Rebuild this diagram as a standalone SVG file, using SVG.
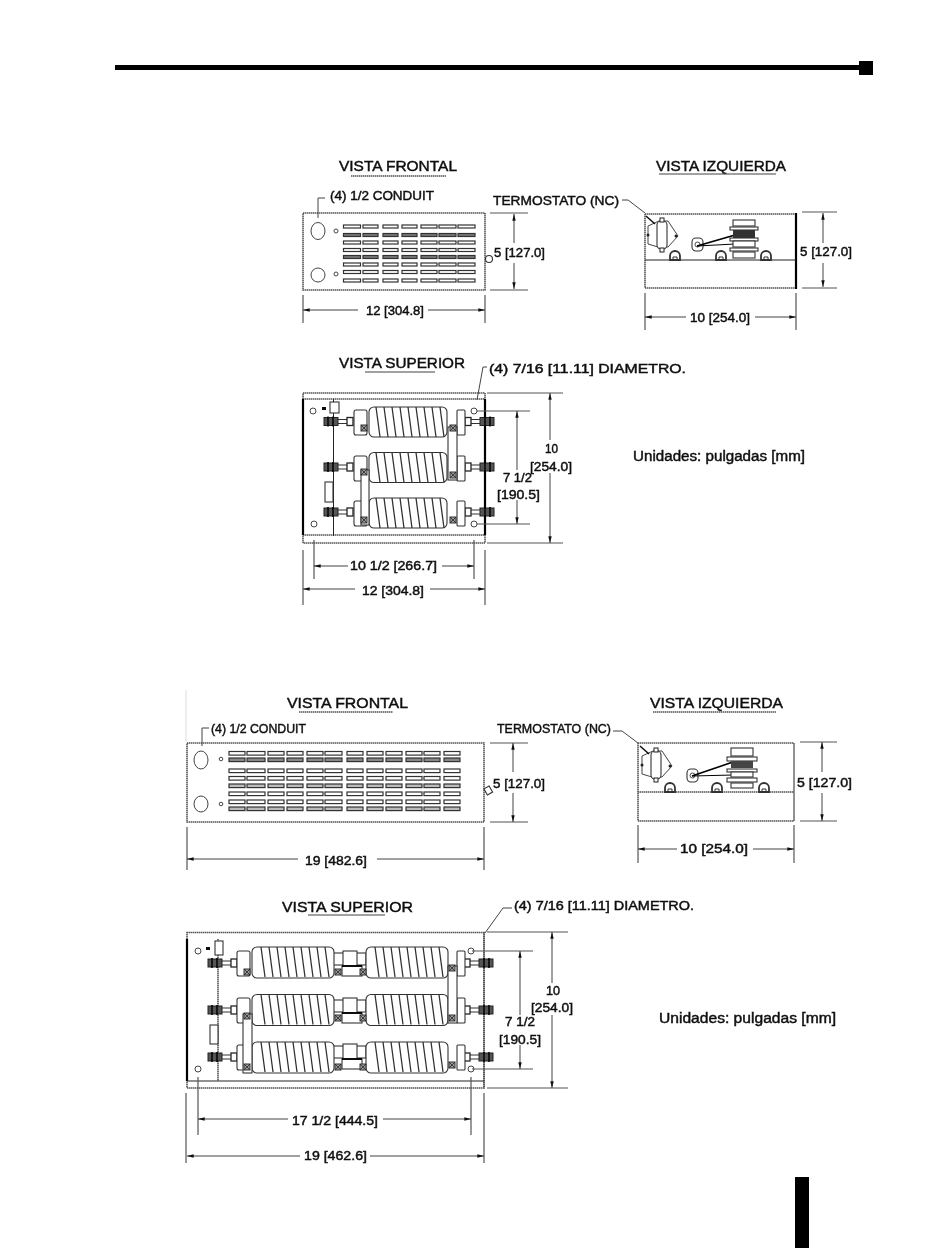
<svg xmlns="http://www.w3.org/2000/svg" width="950" height="1254" viewBox="0 0 950 1254">
<style>
text{font-family:"Liberation Sans",Arial,sans-serif;font-size:12.500px;fill:#111;stroke:#111;stroke-width:.45}
.h{font-size:14.500px}
.u{font-size:14px}
.l{fill:none;stroke:#222;stroke-width:1}
.t{fill:none;stroke:#444;stroke-width:1}
.b{fill:none;stroke:#555;stroke-width:1.600;stroke-dasharray:1.500 .5}
.k{fill:none;stroke:#000;stroke-width:2.200}
.s{stroke:#333;stroke-width:1.200}
.c{fill:#fff;stroke:#333;stroke-width:1.100}
.d{fill:none;stroke:#444;stroke-width:1;marker-end:url(#ar)}
.e{fill:none;stroke:#555;stroke-width:1.200}
</style>
<defs>
<filter id="soft" filterUnits="userSpaceOnUse" x="0" y="0" width="950" height="1254"><feGaussianBlur stdDeviation="0.3"/></filter>
<marker id="ar" viewBox="0 0 8 6" refX="8" refY="3" markerWidth="7" markerHeight="5" orient="auto" markerUnits="userSpaceOnUse"><path d="M0 1L8 3L0 5z" fill="#111"/></marker>
<g id="row7"><rect class="s" x="343.500" width="17" height="3"/><rect class="s" x="363" width="15" height="3"/><rect class="s" x="383" width="15" height="3"/><rect class="s" x="402" width="15" height="3"/><rect class="s" x="421" width="16" height="3"/><rect class="s" x="439" width="17" height="3"/><rect class="s" x="458" width="17" height="3"/></g>
<g id="row12"><rect class="s" x="229" width="16" height="3.600"/><rect class="s" x="247" width="18" height="3.600"/><rect class="s" x="268" width="16" height="3.600"/><rect class="s" x="287" width="16" height="3.600"/><rect class="s" x="307" width="16" height="3.600"/><rect class="s" x="325" width="17" height="3.600"/><rect class="s" x="347" width="16" height="3.600"/><rect class="s" x="367" width="16" height="3.600"/><rect class="s" x="386" width="16" height="3.600"/><rect class="s" x="406" width="16" height="3.600"/><rect class="s" x="424" width="16" height="3.600"/><rect class="s" x="444" width="16" height="3.600"/></g>
<path id="ribs" d="M7 0l4 30M15 0l4 30M23 0l4 30M31 0l4 30M39 0l4 30M47 0l4 30M55 0l4 30M63 0l4 30M71 0l4 30" fill="none" stroke="#333" stroke-width="1.300"/>
<g id="coilS"><rect class="c" width="78" height="30" rx="5"/><use href="#ribs"/></g>
<g id="coilL"><rect class="c" width="82" height="31" rx="5"/><use href="#ribs" x="2"/></g>
<g id="studL"><rect x="13" y="-2" width="12" height="4" fill="#fff" stroke="#333"/><rect x="0" y="-4" width="14" height="8" fill="#555" stroke="#222"/><path d="M4 -5v10M9 -5v10" stroke="#000" stroke-width="1.500"/><rect x="23" y="-4" width="6" height="8" fill="#fff" stroke="#222" stroke-width="1.300"/></g>
<g id="studR"><rect x="4" y="-2" width="12" height="4" fill="#fff" stroke="#333"/><rect x="15" y="-4" width="14" height="8" fill="#555" stroke="#222"/><path d="M20 -5v10M25 -5v10" stroke="#000" stroke-width="1.500"/><rect x="0" y="-4" width="6" height="8" fill="#fff" stroke="#222" stroke-width="1.300"/></g>
<rect id="hubT" class="c" width="13" height="25" rx="2"/>
<rect id="hubS" class="c" width="8" height="25" rx="1"/>
<g id="term"><rect x="-3" y="-3" width="6" height="6" fill="#999" stroke="#333"/><path d="M-3 -3l6 6M3 -3l-6 6" stroke="#222" stroke-width=".8"/></g>
<g id="therm"><path class="t" d="M0 6L11 1H20L30 16L20 27H10L0 24z"/><rect class="c" x="9" y="1" width="10" height="28" rx="4"/><rect class="c" x="12" y="-2" width="4" height="4"/><rect class="c" x="12" y="28" width="4" height="4"/><circle cx="0" cy="15" r="1.500" fill="#222"/><circle cx="28" cy="16" r="1.500" fill="#222"/><path d="M-2 -4L7 4" stroke="#111" stroke-width="1.500"/></g>
<g id="nut"><path d="M-5 4v-4a5 5 0 0 1 10 0v4z" fill="#fff" stroke="#333" stroke-width="1.800"/><path d="M-2 4v-3h4v3" fill="none" stroke="#333"/></g>
</defs>
<g filter="url(#soft)">
<g id="page">
<rect x="115" y="65" width="745" height="5" fill="#000"/>
<rect x="859" y="61" width="14" height="14" fill="#000"/>
<rect x="795" y="1177" width="14" height="71" fill="#000"/>
<line x1="186" y1="690" x2="186" y2="742" stroke="#ddd"/>
</g>
<g id="top-frontal">
<text class="h" x="339" y="171" textLength="118" lengthAdjust="spacingAndGlyphs">VISTA FRONTAL</text>
<line class="b" x1="351" y1="176" x2="446" y2="176"/>
<text x="330" y="200" textLength="104" lengthAdjust="spacingAndGlyphs">(4) 1/2 CONDUIT</text>
<rect class="b" x="303" y="213" width="182" height="77"/>
<ellipse class="t" cx="318" cy="231" rx="7" ry="8.500"/><circle class="t" cx="318" cy="275" r="7"/>
<circle class="t" cx="336" cy="231" r="2"/><circle class="t" cx="336" cy="274" r="2"/>
<use href="#row7" y="225" fill="#fff"/><use href="#row7" y="233.500" fill="#777"/><use href="#row7" y="241" fill="#fff"/><use href="#row7" y="248.500" fill="#fff"/><use href="#row7" y="255.500" fill="#777"/><use href="#row7" y="263" fill="#fff"/><use href="#row7" y="270.500" fill="#fff"/><use href="#row7" y="279" fill="#fff"/>
<circle class="c" cx="489" cy="259" r="3.500"/>
<text x="494" y="256.500" textLength="51" lengthAdjust="spacingAndGlyphs">5 [127.0]</text>
<text x="366" y="315" textLength="58" lengthAdjust="spacingAndGlyphs">12 [304.8]</text>
</g>
<g id="top-left-view">
<text class="h" x="656" y="171" textLength="130" lengthAdjust="spacingAndGlyphs">VISTA IZQUIERDA</text>
<line class="t" x1="659" y1="174" x2="776" y2="174"/>
<text x="493" y="205" textLength="126" lengthAdjust="spacingAndGlyphs">TERMOSTATO (NC)</text>
<path class="b" d="M645 214h151M645 288h151M645 214v74"/>
<line class="k" x1="796" y1="213" x2="796" y2="289"/>
<line class="l" x1="645" y1="260" x2="796" y2="260"/>
<use href="#therm" x="648" y="220"/>
<rect class="c" x="692" y="238" width="11" height="13" rx="4"/><circle class="t" cx="697.500" cy="244.500" r="2.500"/>
<path d="M697 246L735 235" stroke="#000" stroke-width="1.800"/><path d="M697 246L735 244" stroke="#000" stroke-width="1"/>
<rect class="c" x="733" y="220" width="22" height="6"/><rect class="c" x="730" y="227" width="28" height="3"/><rect x="733" y="230" width="22" height="8" fill="#333"/><rect class="c" x="730" y="238" width="28" height="3"/><rect class="c" x="733" y="241" width="22" height="6"/><rect class="c" x="730" y="248" width="28" height="3"/><rect class="c" x="733" y="252" width="22" height="6"/>
<use href="#nut" x="675" y="256"/><use href="#nut" x="721" y="256"/><use href="#nut" x="766" y="256"/>
<text x="800" y="256" textLength="52" lengthAdjust="spacingAndGlyphs">5 [127.0]</text>
<text x="690" y="322" textLength="60" lengthAdjust="spacingAndGlyphs">10 [254.0]</text>
</g>
<g id="top-plan">
<text class="h" x="339" y="368" textLength="126" lengthAdjust="spacingAndGlyphs">VISTA SUPERIOR</text>
<line class="t" x1="365" y1="372" x2="435" y2="372"/>
<text x="489" y="373" textLength="197" lengthAdjust="spacingAndGlyphs">(4) 7/16 [11.11] DIAMETRO.</text>
<rect class="b" x="303" y="393" width="182" height="150"/>
<path class="b" d="M303 399h182M303 535h182"/>
<path class="k" d="M303 399v136M485 399v136"/>
<line class="l" x1="333.500" y1="399" x2="333.500" y2="536"/>
<circle class="t" cx="313" cy="411" r="3"/><circle class="t" cx="314" cy="524" r="3"/><circle class="t" cx="474" cy="411" r="3"/><circle class="t" cx="474" cy="524" r="3"/>
<rect class="c" x="330" y="402" width="9" height="11"/><rect x="322" y="407" width="4" height="3" fill="#111"/>
<rect class="c" x="325" y="482" width="8" height="20"/>
<use href="#studL" x="324" y="421.500"/><use href="#studL" x="324" y="467"/><use href="#studL" x="324" y="512"/>
<use href="#studR" x="465" y="421.500"/><use href="#studR" x="465" y="467"/><use href="#studR" x="465" y="512"/>
<use href="#hubT" x="354" y="410"/><use href="#hubT" x="354" y="456"/><use href="#hubT" x="354" y="501"/>
<use href="#hubS" x="457" y="410"/><use href="#hubS" x="457" y="456"/><use href="#hubS" x="457" y="501"/>
<use href="#coilS" x="369" y="407"/><use href="#coilS" x="369" y="452.500"/><use href="#coilS" x="369" y="498"/>
<rect class="c" x="448" y="427" width="9" height="53"/><rect class="c" x="361" y="470" width="8" height="55"/>
<use href="#term" x="364" y="428"/><use href="#term" x="453" y="428"/><use href="#term" x="453" y="475"/><use href="#term" x="364" y="472"/><use href="#term" x="364" y="520"/><use href="#term" x="453" y="520"/>
<text x="545" y="453" textLength="13" lengthAdjust="spacingAndGlyphs">10</text><text x="530" y="471" textLength="42" lengthAdjust="spacingAndGlyphs">[254.0]</text>
<text x="503" y="481.500" textLength="29" lengthAdjust="spacingAndGlyphs">7 1/2</text><text x="497" y="499" textLength="43" lengthAdjust="spacingAndGlyphs">[190.5]</text>
<text class="u" x="633" y="461" textLength="172" lengthAdjust="spacingAndGlyphs">Unidades: pulgadas [mm]</text>
<text x="350" y="570" textLength="87" lengthAdjust="spacingAndGlyphs">10 1/2 [266.7]</text>
<text x="362" y="595" textLength="62" lengthAdjust="spacingAndGlyphs">12 [304.8]</text>
</g>
<g id="bottom-frontal">
<text class="h" x="287" y="708" textLength="121" lengthAdjust="spacingAndGlyphs">VISTA FRONTAL</text>
<line class="b" x1="299" y1="712" x2="393" y2="712"/>
<text x="211" y="733" textLength="95" lengthAdjust="spacingAndGlyphs">(4) 1/2 CONDUIT</text>
<rect class="b" x="187" y="743" width="297" height="79"/>
<ellipse class="t" cx="201" cy="760" rx="7" ry="9"/><ellipse class="t" cx="201" cy="804" rx="7" ry="8"/>
<circle class="t" cx="221" cy="759" r="1.800"/><circle class="t" cx="221" cy="804" r="1.800"/>
<use href="#row12" y="751.500" fill="#fff"/><use href="#row12" y="758" fill="#888"/><use href="#row12" y="769" fill="#fff"/><use href="#row12" y="776.500" fill="#fff"/><use href="#row12" y="784" fill="#bbb"/><use href="#row12" y="792" fill="#fff"/><use href="#row12" y="800" fill="#fff"/><use href="#row12" y="807" fill="#bbb"/>
<rect class="c" x="485" y="787" width="6" height="7" transform="rotate(-30 488 790)"/>
<text x="493" y="788" textLength="52" lengthAdjust="spacingAndGlyphs">5 [127.0]</text>
<text x="305" y="865" textLength="62" lengthAdjust="spacingAndGlyphs">19 [482.6]</text>
</g>
<g id="bottom-left-view">
<text class="h" x="650" y="707.500" textLength="133" lengthAdjust="spacingAndGlyphs">VISTA IZQUIERDA</text>
<line class="b" x1="653" y1="712" x2="776" y2="712"/>
<text x="497" y="733" textLength="114" lengthAdjust="spacingAndGlyphs">TERMOSTATO (NC)</text>
<path class="b" d="M638 743h156M638 821h156M638 743v78"/>
<line class="l" x1="794" y1="743" x2="794" y2="821"/>
<line class="b" x1="638" y1="792" x2="794" y2="792"/>
<use href="#therm" x="642" y="750"/>
<rect class="c" x="687" y="769" width="11" height="13" rx="4"/><circle class="t" cx="692.500" cy="775.500" r="2.500"/>
<path d="M692 776L733 762" stroke="#000" stroke-width="1.800"/><path d="M692 776L733 775" stroke="#000" stroke-width="1.200"/>
<rect class="c" x="731" y="748" width="22" height="8"/><rect class="c" x="727" y="757" width="30" height="4"/><rect x="731" y="761" width="22" height="7" fill="#444"/><rect class="c" x="727" y="769" width="30" height="3"/><rect class="c" x="731" y="772" width="22" height="5"/><rect class="c" x="727" y="778" width="30" height="4"/><rect class="c" x="731" y="783" width="22" height="5"/>
<use href="#nut" x="670" y="788"/><use href="#nut" x="717" y="788"/><use href="#nut" x="764" y="788"/>
<text x="797" y="787" textLength="55" lengthAdjust="spacingAndGlyphs">5 [127.0]</text>
<text x="680" y="853" textLength="68" lengthAdjust="spacingAndGlyphs">10 [254.0]</text>
</g>
<g id="bottom-plan">
<text class="h" x="282" y="912" textLength="131" lengthAdjust="spacingAndGlyphs">VISTA SUPERIOR</text>
<line class="t" x1="308" y1="915" x2="385" y2="915"/>
<text x="514" y="910" textLength="180" lengthAdjust="spacingAndGlyphs">(4) 7/16 [11.11] DIAMETRO.</text>
<rect class="b" x="187" y="932.500" width="297" height="155.500"/>
<path class="b" d="M218 939v142M484 932v156"/>
<line class="k" x1="187" y1="939" x2="187" y2="1081"/>
<line class="l" x1="187" y1="1081" x2="484" y2="1081"/>
<circle class="t" cx="198" cy="951" r="3"/><circle class="t" cx="198" cy="1069" r="3"/><circle class="t" cx="471" cy="951" r="3"/><circle class="t" cx="471" cy="1069" r="3"/>
<rect class="c" x="215" y="941" width="8" height="14"/><rect x="206" y="947" width="4" height="3" fill="#111"/>
<rect class="c" x="210" y="1025" width="8" height="19"/>
<use href="#studL" x="208" y="963"/><use href="#studL" x="208" y="1010"/><use href="#studL" x="208" y="1057"/>
<use href="#studR" x="464" y="963"/><use href="#studR" x="464" y="1010"/><use href="#studR" x="464" y="1057"/>
<use href="#hubT" x="237" y="951"/><use href="#hubT" x="237" y="998"/><use href="#hubT" x="237" y="1045"/>
<use href="#hubS" x="457" y="951"/><use href="#hubS" x="457" y="998"/><use href="#hubS" x="457" y="1045"/>
<g id="link1"><rect class="c" x="333" y="953" width="33" height="12"/><rect class="c" x="343" y="951" width="14" height="16"/><rect class="c" x="342" y="966" width="20" height="10"/><path d="M342 966h20" stroke="#000" stroke-width="1.800"/></g>
<use href="#link1" y="47"/><use href="#link1" y="93"/>
<use href="#coilL" x="252" y="947"/><use href="#coilL" x="366" y="947"/>
<use href="#coilL" x="252" y="994.500"/><use href="#coilL" x="366" y="994.500"/>
<use href="#coilL" x="252" y="1042"/><use href="#coilL" x="366" y="1042"/>
<rect class="c" x="448" y="966" width="9" height="57"/><rect class="c" x="243" y="1014" width="9" height="59"/>
<use href="#term" x="247" y="972"/><use href="#term" x="452" y="968"/><use href="#term" x="452" y="1018"/><use href="#term" x="247" y="1016"/><use href="#term" x="247" y="1067"/><use href="#term" x="452" y="1065"/>
<use href="#term" x="338" y="972"/><use href="#term" x="363" y="972"/><use href="#term" x="338" y="1018"/><use href="#term" x="363" y="1018"/><use href="#term" x="338" y="1067"/><use href="#term" x="363" y="1067"/>
<text x="546" y="995" textLength="14" lengthAdjust="spacingAndGlyphs">10</text><text x="531" y="1012" textLength="42" lengthAdjust="spacingAndGlyphs">[254.0]</text>
<text x="505" y="1026" textLength="30" lengthAdjust="spacingAndGlyphs">7 1/2</text><text x="499" y="1044" textLength="42" lengthAdjust="spacingAndGlyphs">[190.5]</text>
<text class="u" x="659" y="1023" textLength="177" lengthAdjust="spacingAndGlyphs">Unidades: pulgadas [mm]</text>
<text x="292" y="1124.500" textLength="86" lengthAdjust="spacingAndGlyphs">17 1/2 [444.5]</text>
<text x="304" y="1160" textLength="63" lengthAdjust="spacingAndGlyphs">19 [462.6]</text>
</g>
<g id="connectors">
<path class="t" d="M325 198h-7v20"/>
<path class="t" d="M622 200h6l17 13"/>
<path class="t" d="M487 367h-4l-6 33"/>
<path class="t" d="M209 728h-7v18"/>
<path class="t" d="M613 731h9l16 12"/>
<path class="t" d="M512 908h-9l-18 25"/>
<path class="e" d="M303 295v28M485 295v28"/>
<line class="d" x1="358" y1="310" x2="303" y2="310"/><line class="d" x1="428" y1="310" x2="485" y2="310"/>
<path class="e" d="M490 213h38M490 290h38"/>
<line class="d" x1="514" y1="243" x2="514" y2="214"/><line class="d" x1="514" y1="263" x2="514" y2="289"/>
<path class="e" d="M645 293v37M796 293v37"/>
<line class="d" x1="686" y1="317" x2="645" y2="317"/><line class="d" x1="755" y1="317" x2="796" y2="317"/>
<path class="e" d="M802 212h35M802 288h35"/>
<line class="d" x1="823" y1="243" x2="823" y2="213"/><line class="d" x1="823" y1="263" x2="823" y2="287"/>
<path class="e" d="M487 393h76M487 543h76"/>
<line class="d" x1="550" y1="440" x2="550" y2="393"/><line class="d" x1="550" y1="473" x2="550" y2="543"/>
<path class="e" d="M477 411h53M477 524h53"/>
<line class="d" x1="517" y1="470" x2="517" y2="411"/><line class="d" x1="517" y1="500" x2="517" y2="524"/>
<path class="e" d="M314 540v39M474 540v39M303 550v55M485 550v55"/>
<line class="d" x1="348" y1="566" x2="314" y2="566"/><line class="d" x1="442" y1="566" x2="474" y2="566"/>
<line class="d" x1="355" y1="589" x2="303" y2="589"/><line class="d" x1="430" y1="589" x2="485" y2="589"/>
<path class="e" d="M490 743h38M490 822h38"/>
<line class="d" x1="513" y1="772" x2="513" y2="743"/><line class="d" x1="513" y1="793" x2="513" y2="822"/>
<path class="e" d="M187 827v43M484 827v43"/>
<line class="d" x1="298" y1="859" x2="187" y2="859"/><line class="d" x1="377" y1="859" x2="484" y2="859"/>
<path class="e" d="M638 825v38M794 825v38"/>
<line class="d" x1="677" y1="849" x2="638" y2="849"/><line class="d" x1="753" y1="849" x2="794" y2="849"/>
<path class="e" d="M800 742h37M800 821h37"/>
<line class="d" x1="822" y1="772" x2="822" y2="742"/><line class="d" x1="822" y1="793" x2="822" y2="821"/>
<path class="e" d="M487 932h81M487 1088h81"/>
<line class="d" x1="552" y1="983" x2="552" y2="932"/><line class="d" x1="552" y1="1015" x2="552" y2="1088"/>
<path class="e" d="M472 951h61M472 1069h61"/>
<line class="d" x1="520" y1="1015" x2="520" y2="951"/><line class="d" x1="520" y1="1045" x2="520" y2="1069"/>
<path class="e" d="M198 1077v58M471 1077v58M186 1093v70M484 1093v70"/>
<line class="d" x1="288" y1="1119" x2="198" y2="1119"/><line class="d" x1="383" y1="1119" x2="471" y2="1119"/>
<line class="d" x1="300" y1="1156" x2="187" y2="1156"/><line class="d" x1="370" y1="1156" x2="484" y2="1156"/>
</g>
</g>
</svg>
